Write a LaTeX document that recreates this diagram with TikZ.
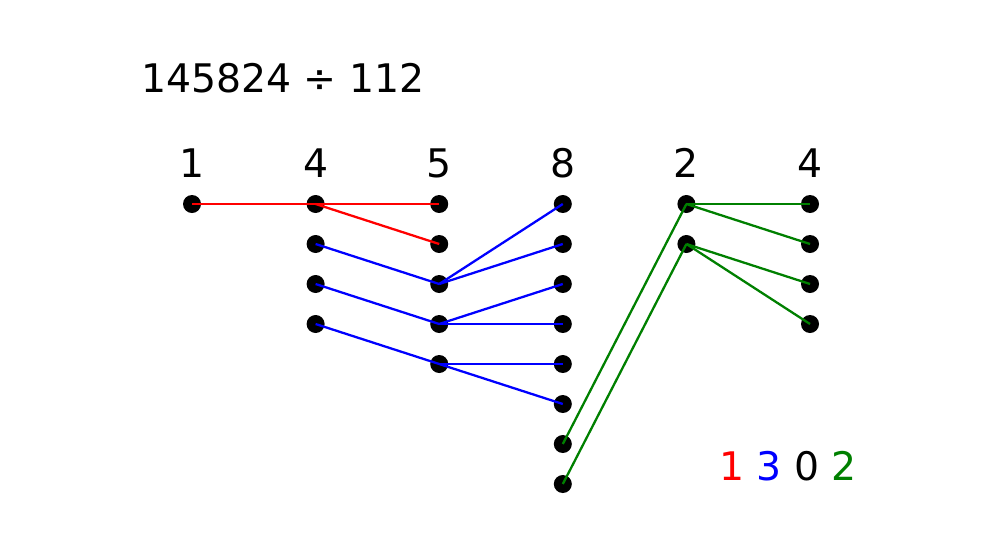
\documentclass[tikz,border=0pt]{standalone}
\usepackage{fontspec}
\setmainfont{DejaVu Sans}
\usetikzlibrary{positioning}
\definecolor{darkgreen}{RGB}{0,128,0}

\begin{document}
\begin{tikzpicture}[on grid, node distance={4mm and 12.36mm}, line width=0.65pt,
        dot/.style = {fill, circle, inner sep=0pt, minimum size=1.8mm},
        digit/.style = {inner sep=0pt, font=\fontsize{11.2}{14}\selectfont}]
        \useasboundingbox[fill=white] (0,0) rectangle (100mm,-55.7mm);
        \node[digit] (sum) at (28.3mm,-7.85mm) {145824 ÷ 112};
        % dots
        \node[dot] (a1) at (19.2mm,-20.4mm) {};
        \node[dot] (b1) [right=of a1] {};
        \node[dot] (c1) [right=of b1] {};
        \node[dot] (d1) [right=of c1] {};
        \node[dot] (e1) [right=of d1] {};
        \node[dot] (f1) [right=of e1] {};
        \node[dot] (b2) [below=of b1] {};
        \node[dot] (b3) [below=of b2] {};
        \node[dot] (b4) [below=of b3] {};
        \node[dot] (c2) [below=of c1] {};
        \node[dot] (c3) [below=of c2] {};
        \node[dot] (c4) [below=of c3] {};
        \node[dot] (c5) [below=of c4] {};
        \node[dot] (d2) [below=of d1] {};
        \node[dot] (d3) [below=of d2] {};
        \node[dot] (d4) [below=of d3] {};
        \node[dot] (d5) [below=of d4] {};
        \node[dot] (d6) [below=of d5] {};
        \node[dot] (d7) [below=of d6] {};
        \node[dot] (d8) [below=of d7] {};
        \node[dot] (e2) [below=of e1] {};
        \node[dot] (f2) [below=of f1] {};
        \node[dot] (f3) [below=of f2] {};
        \node[dot] (f4) [below=of f3] {};
        % digits of the dividend
        \node[digit] (ha) [above=4.1mm of a1] {1};
        \node[digit] (hb) [above=4.1mm of b1] {4};
        \node[digit] (hc) [above=4.1mm of c1] {5};
        \node[digit] (hd) [above=4.1mm of d1] {8};
        \node[digit] (he) [above=4.1mm of e1] {2};
        \node[digit] (hf) [above=4.1mm of f1] {4};
        % quotient
        \node[digit] (quot) at (78.8mm,-46.6mm) {{\color{red}1} {\color{blue}3} 0 {\color{darkgreen}2}};
        % connections
        \draw[red] (a1.center) -- (c1.center);
        \draw[red] (b1.center) -- (c2.center);
        \draw[blue] (b2.center) -- (c3.center);
        \draw[blue] (b3.center) -- (c4.center);
        \draw[blue] (b4.center) -- (d6.center);
        \draw[blue] (c3.center) -- (d1.center);
        \draw[blue] (c3.center) -- (d2.center);
        \draw[blue] (c4.center) -- (d3.center);
        \draw[blue] (c4.center) -- (d4.center);
        \draw[blue] (c5.center) -- (d5.center);
        \draw[darkgreen] (e1.center) -- (d7.center);
        \draw[darkgreen] (e2.center) -- (d8.center);
        \draw[darkgreen] (e1.center) -- (f1.center);
        \draw[darkgreen] (e1.center) -- (f2.center);
        \draw[darkgreen] (e2.center) -- (f3.center);
        \draw[darkgreen] (e2.center) -- (f4.center);
\end{tikzpicture}
\end{document}
